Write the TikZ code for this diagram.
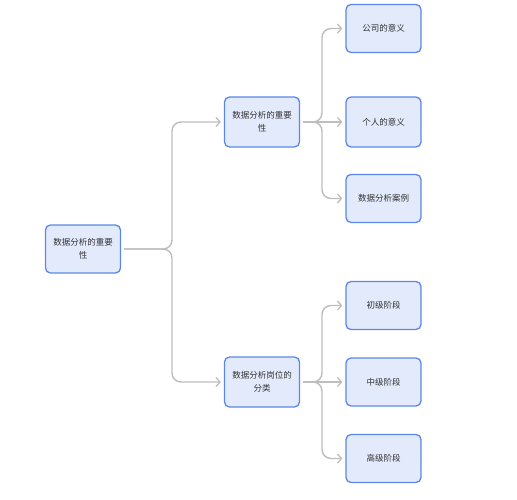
\documentclass[tikz,border=0pt]{standalone}
\usepackage{fontspec}
\setmainfont{Noto Sans CJK SC}
\usetikzlibrary{arrows.meta}
\definecolor{boxfill}{HTML}{E3EAFC}
\definecolor{boxline}{HTML}{5B88E8}
\definecolor{conn}{HTML}{BDBDBD}
\definecolor{txt}{HTML}{333333}
\begin{document}
\begin{tikzpicture}[x=1pt,y=-1pt,
  topic/.style={draw=boxline,fill=boxfill,line width=1.3pt,rounded corners=5pt,
    minimum width=75pt,minimum height=48pt,align=center,font=\fontsize{8.5}{13}\selectfont,text=txt,inner sep=2pt},
  link/.style={draw=conn,line width=1.4pt,rounded corners=9pt,shorten <=3pt,-{Straight Barb[length=4pt,width=9pt,line width=1.3pt]}}]
\useasboundingbox[fill=white] (0,0) rectangle (517,500);
\node[topic] (root) at (83,249) {数据分析的重要\\性};
\node[topic,minimum height=50pt] (a) at (262,122) {数据分析的重要\\性};
\node[topic,minimum height=50pt] (b) at (262,382) {数据分析岗位的\\分类};
\node[topic] (a1) at (383.5,28.5) {公司的意义};
\node[topic,minimum height=50pt] (a2) at (383.5,122) {个人的意义};
\node[topic] (a3) at (383.5,198.5) {数据分析案例};
\node[topic] (b1) at (383.5,305.5) {初级阶段};
\node[topic] (b2) at (383.5,382) {中级阶段};
\node[topic] (b3) at (383.5,458.5) {高级阶段};
\draw[link] (root.east) -- (172,249) |- ([xshift=-3pt]a.west);
\draw[link] (root.east) -- (172,249) |- ([xshift=-3pt]b.west);
\draw[link] (a.east) -- (322,122) |- ([xshift=-3pt]a1.west);
\draw[link] (a.east) -- ([xshift=-3pt]a2.west);
\draw[link] (a.east) -- (322,122) |- ([xshift=-3pt]a3.west);
\draw[link] (b.east) -- (322,382) |- ([xshift=-3pt]b1.west);
\draw[link] (b.east) -- ([xshift=-3pt]b2.west);
\draw[link] (b.east) -- (322,382) |- ([xshift=-3pt]b3.west);
\end{tikzpicture}
\end{document}
